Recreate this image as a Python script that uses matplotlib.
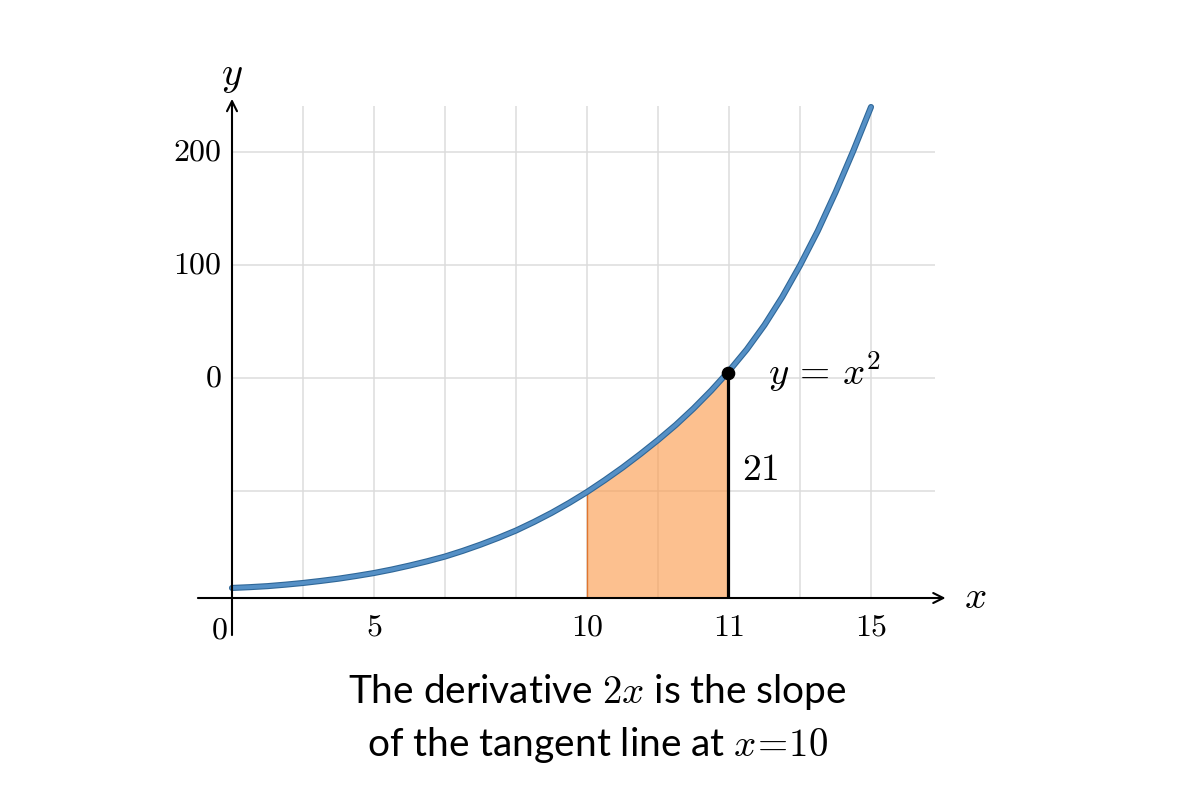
"""y = x^2 sketch with shaded strip under the curve and a caption below."""

import matplotlib.pyplot as plt
import matplotlib.patheffects as pe
import numpy as np

plt.rcParams["mathtext.fontset"] = "cm"

# curve (x in grid steps, y in tick-label units)
curve_x = [0, 0.25, 0.5, 0.75, 1, 1.25, 1.5, 1.75, 2, 2.25, 2.5, 2.75,
           3, 3.25, 3.5, 3.75, 4, 4.25, 4.5, 4.75, 5, 5.25, 5.5, 5.75,
           6, 6.25, 6.5, 6.75, 7, 7.25, 7.5, 7.75, 8, 8.25, 8.5, 8.75, 9]
curve_y = [-185.8, -185.1, -184.2, -182.9, -181.4, -179.6, -177.6, -175.2,
           -172.6, -169.5, -166.0, -162.2, -158.0, -153.0, -147.5, -141.5,
           -135.0, -127.5, -119.4, -110.5, -100.9, -90.4, -79.3, -67.4,
           -54.9, -41.6, -27.0, -11.1, 6.2, 25.2, 46.9, 71.7,
           99.6, 130.1, 164.2, 200.9, 239.8]

x_ticks = [2, 5, 7, 9]
x_tick_labels = ["5", "10", "11", "15"]
y_ticks = [0, 100, 200]
y_tick_labels = ["0", "100", "200"]
grid_x = [1, 2, 3, 4, 5, 6, 7, 8, 9]
grid_y = [-100, 0, 100, 200]

shade_from, shade_to = 5, 7
point = (6.98, 4.4)
axis_y = -194.7  # where the x-axis sits

fig = plt.figure(figsize=(12, 8), dpi=100)
ax = fig.add_axes([0, 0, 1, 1])
ax.set_xlim(-232 / 71, 968 / 71)
ax.set_ylim(-373.45, 334.5)
ax.axis("off")

# grid
ax.vlines(grid_x, axis_y, 241, color="#dcdcdc", lw=1.1, zorder=1)
ax.hlines(grid_y, 0, 9.9, color="#dcdcdc", lw=1.1, zorder=1)

# shaded strip
cx = np.array(curve_x)
cy = np.array(curve_y)
sel = (cx >= shade_from) & (cx <= shade_to)
ax.fill_between(cx[sel], cy[sel], axis_y, color="#fb9a4b", alpha=0.62,
                lw=0, zorder=2)
ax.vlines(shade_from, axis_y, cy[cx == shade_from][0], color="#e0762f",
          lw=1, zorder=2)

# curve
ax.plot(cx, cy, color="#5590c6", lw=2.8, solid_capstyle="round",
        solid_joinstyle="round", zorder=4,
        path_effects=[pe.Stroke(linewidth=4.4, foreground="#2f6798"),
                      pe.Normal()])

# vertical segment + point
ax.vlines(point[0], axis_y, 0, color="black", lw=2.3, zorder=5)
ax.plot(*point, "o", color="black", ms=8.8, zorder=6)

# axes with arrows
arrow = dict(arrowstyle="->", lw=1.5, color="black", mutation_scale=18,
             shrinkA=0, shrinkB=0)
ax.annotate("", xy=(10.05, axis_y), xytext=(-0.48, axis_y),
            arrowprops=arrow, zorder=5)
ax.annotate("", xy=(0, 247), xytext=(0, -227.5), arrowprops=arrow, zorder=5)

tick_font = dict(fontsize=23)
for x, lab in zip(x_ticks, x_tick_labels):
    ax.text(x, -220.5, f"${lab}$", ha="center", va="center", **tick_font)
ax.text(-0.06, -223, "$0$", ha="right", va="center", **tick_font)
for y, lab in zip(y_ticks, y_tick_labels):
    ax.text(-0.14, y, f"${lab}$", ha="right", va="center", **tick_font)

ax.text(0, 268, "$y$", ha="center", va="center", fontsize=29)
ax.text(10.47, -194, "$x$", ha="center", va="center", fontsize=28)
ax.text(7.55, 6, r"$y\,=\,x^{2}$", ha="left", va="center", fontsize=28)
ax.text(7.18, -81.5, "$21$", ha="left", va="center", fontsize=27)

fig.text(0.498, 1 - 692 / 800, "The derivative $2x$ is the slope",
         ha="center", va="center", fontsize=28, family="Lato")
fig.text(0.498, 1 - 745 / 800, r"of the tangent line at $x\!=\!10$",
         ha="center", va="center", fontsize=28, family="Lato")

fig.savefig("out.png", dpi=100, facecolor="white")
